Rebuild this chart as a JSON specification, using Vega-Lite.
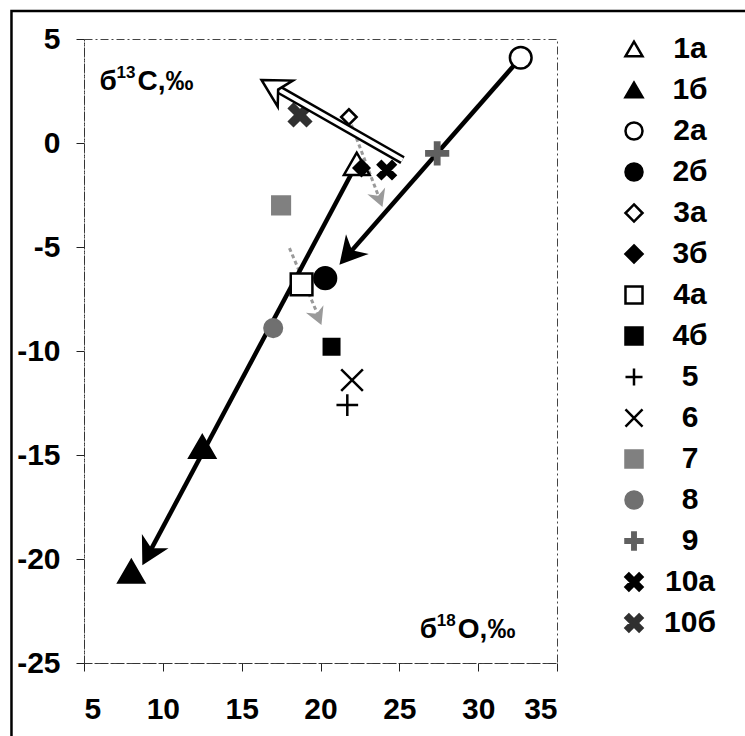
{
  "$schema": "https://vega.github.io/schema/vega-lite/v6.json",
  "width": 473,
  "height": 624,
  "autosize": {"type": "none"},
  "padding": {"left": 84, "top": 39, "right": 188, "bottom": 73},
  "background": "white",
  "config": {
    "view": {"stroke": "#444", "strokeWidth": 1, "strokeDash": [8, 3, 2, 3]},
    "axis": {
      "grid": false,
      "title": null,
      "domainColor": "#333",
      "domainDash": [8, 3, 2, 3],
      "tickColor": "#222",
      "tickSize": 8,
      "labelFont": "Liberation Sans",
      "labelFontSize": 30,
      "labelFontWeight": "bold",
      "labelColor": "black"
    }
  },
  "datasets": {
    "points": [
      {"g": "1a", "x": 22.3, "y": -1.0},
      {"g": "1б", "x": 12.5, "y": -14.6},
      {"g": "1б", "x": 8.0, "y": -20.6},
      {"g": "2a", "x": 32.7, "y": 4.1},
      {"g": "2б", "x": 20.3, "y": -6.5},
      {"g": "3a", "x": 21.8, "y": 1.25},
      {"g": "3б", "x": 22.6, "y": -1.2},
      {"g": "4a", "x": 18.8, "y": -6.8},
      {"g": "4б", "x": 20.7, "y": -9.8},
      {"g": "5", "x": 21.7, "y": -12.6},
      {"g": "6", "x": 22.0, "y": -11.4},
      {"g": "7", "x": 17.5, "y": -3.0},
      {"g": "8", "x": 17.0, "y": -8.9},
      {"g": "9", "x": 27.4, "y": -0.5},
      {"g": "10a", "x": 24.2, "y": -1.3},
      {"g": "10б", "x": 18.7, "y": 1.35}
    ],
    "lines": [
      {"arrow": "A1", "o": 1, "x": 32.7, "y": 4.1},
      {"arrow": "A1", "o": 2, "x": 21.6, "y": -5.5},
      {"arrow": "A2", "o": 1, "x": 22.3, "y": -1.0},
      {"arrow": "A2", "o": 2, "x": 9.0, "y": -19.9},
      {"arrow": "W", "o": 1, "x": 25.2, "y": -0.82},
      {"arrow": "W", "o": 2, "x": 17.4, "y": 2.55},
      {"arrow": "G1", "o": 1, "x": 21.96, "y": 0.87},
      {"arrow": "G1", "o": 2, "x": 23.7, "y": -2.6},
      {"arrow": "G2", "o": 1, "x": 18.03, "y": -5.05},
      {"arrow": "G2", "o": 2, "x": 19.8, "y": -8.2}
    ],
    "heads": [
      {"arrow": "A1", "x": 21.2, "y": -5.85},
      {"arrow": "A2", "x": 8.7, "y": -20.3},
      {"arrow": "W", "x": 16.26, "y": 3.03},
      {"arrow": "G1", "x": 23.93, "y": -3.08},
      {"arrow": "G2", "x": 20.06, "y": -8.75}
    ],
    "labels": [
      {"k": "c", "x": 5.98, "y": 2.93},
      {"k": "o", "x": 26.3, "y": -23.41}
    ],
    "frame": [
      {"x": 0.4, "x2": 47.8, "y": 6.35, "y2": -29.2}
    ]
  },
  "encoding": {
    "x": {"field": "x", "type": "quantitative", "scale": {"domain": [5, 35], "nice": false, "zero": false},
          "axis": {"values": [5, 10, 15, 20, 25, 30, 35], "labelPadding": 23}},
    "y": {"field": "y", "type": "quantitative", "scale": {"domain": [-25, 5], "nice": false, "zero": false},
          "axis": {"values": [5, 0, -5, -10, -15, -20, -25], "labelPadding": 16, "labelExpr": "replace(datum.label, '−', '-')"}}
  },
  "layer": [
    {
      "data": {"name": "frame"},
      "mark": {"type": "rect", "filled": false, "stroke": "black", "strokeWidth": 2.5},
      "encoding": {"x2": {"field": "x2"}, "y2": {"field": "y2"}}
    },
    {
      "data": {"name": "lines"},
      "transform": [{"filter": "datum.arrow === 'G1' || datum.arrow === 'G2'"}],
      "mark": {"type": "line", "stroke": "#9a9a9a", "strokeWidth": 3, "strokeDash": [4, 3]},
      "encoding": {"detail": {"field": "arrow"}, "order": {"field": "o"}}
    },
    {
      "data": {"name": "lines"},
      "transform": [{"filter": "datum.arrow === 'A1' || datum.arrow === 'A2'"}],
      "mark": {"type": "line", "stroke": "black", "strokeWidth": 4.5},
      "encoding": {"detail": {"field": "arrow"}, "order": {"field": "o"}}
    },
    {
      "data": {"name": "points"},
      "encoding": {
        "shape": {"field": "g", "type": "nominal",
          "scale": {"domain": ["1a","1б","2a","2б","3a","3б","4a","4б","5","6","7","8","9","10a","10б"],
            "range": ["triangle-up","triangle-up","circle","circle","M0,-1L1,0L0,1L-1,0Z","M0,-1L1,0L0,1L-1,0Z","square","square","M-1,0L1,0M0,-1L0,1","M-1,-1L1,1M-1,1L1,-1","square","circle","M-1,-0.2L-0.2,-0.2L-0.2,-1L0.2,-1L0.2,-0.2L1,-0.2L1,0.2L0.2,0.2L0.2,1L-0.2,1L-0.2,0.2L-1,0.2Z","M-1,-0.6L-0.6,-1L0,-0.4L0.6,-1L1,-0.6L0.4,0L1,0.6L0.6,1L0,0.4L-0.6,1L-1,0.6L-0.4,0Z","M-1,-0.6L-0.6,-1L0,-0.4L0.6,-1L1,-0.6L0.4,0L1,0.6L0.6,1L0,0.4L-0.6,1L-1,0.6L-0.4,0Z"]},
          "legend": {"orient": "none", "legendX": 535, "legendY": -5, "title": null, "padding": 0,
            "labelFont": "Liberation Sans", "labelFontSize": 30, "labelFontWeight": "bold", "labelColor": "black",
            "labelAlign": "center", "labelOffset": 41, "rowPadding": 11, "symbolSize": 290, "symbolStrokeWidth": 2.5, "symbolOpacity": 1}},
        "fill": {"field": "g", "type": "nominal",
          "scale": {"domain": ["1a","1б","2a","2б","3a","3б","4a","4б","5","6","7","8","9","10a","10б"],
            "range": ["white","black","white","black","white","black","white","black","black","black","#808080","#707070","#606060","black","#303030"]}},
        "stroke": {"field": "g", "type": "nominal",
          "scale": {"domain": ["1a","1б","2a","2б","3a","3б","4a","4б","5","6","7","8","9","10a","10б"],
            "range": ["black","black","black","black","black","black","black","black","black","black","#808080","#707070","#606060","black","#303030"]}}
      },
      "layer": [
        {
          "transform": [{"filter": "indexof(['1a','1б'], datum.g) >= 0"}],
          "mark": {"type": "point", "opacity": 1, "strokeWidth": 2.5, "size": 660}
        },
        {
          "transform": [{"filter": "indexof(['2a','2б','4a','5','6','9','10б'], datum.g) >= 0"}],
          "mark": {"type": "point", "opacity": 1, "strokeWidth": 2.5, "size": 470}
        },
        {
          "transform": [{"filter": "indexof(['7','8','10a'], datum.g) >= 0"}],
          "mark": {"type": "point", "opacity": 1, "strokeWidth": 2.5, "size": 310}
        },
        {
          "transform": [{"filter": "indexof(['3a','3б','4б'], datum.g) >= 0"}],
          "mark": {"type": "point", "opacity": 1, "strokeWidth": 2.5, "size": 240}
        }
      ]
    },
    {
      "data": {"name": "lines"},
      "transform": [{"filter": "datum.arrow === 'W'"}],
      "mark": {"type": "line", "stroke": "black", "strokeWidth": 9},
      "encoding": {"order": {"field": "o"}}
    },
    {
      "data": {"name": "lines"},
      "transform": [{"filter": "datum.arrow === 'W'"}],
      "mark": {"type": "line", "stroke": "white", "strokeWidth": 4},
      "encoding": {"order": {"field": "o"}}
    },
    {
      "data": {"name": "heads"},
      "transform": [{"filter": "datum.arrow === 'A1'"}],
      "mark": {"type": "point", "shape": "M0,0L0.55,1L0,0.7L-0.55,1Z", "size": 3000, "angle": 221, "filled": true, "fill": "black", "stroke": null, "opacity": 1}
    },
    {
      "data": {"name": "heads"},
      "transform": [{"filter": "datum.arrow === 'A2'"}],
      "mark": {"type": "point", "shape": "M0,0L0.55,1L0,0.7L-0.55,1Z", "size": 3000, "angle": 208, "filled": true, "fill": "black", "stroke": null, "opacity": 1}
    },
    {
      "data": {"name": "heads"},
      "transform": [{"filter": "datum.arrow === 'W'"}],
      "mark": {"type": "point", "shape": "M0,0L0.55,1L0,0.7L-0.55,1Z", "size": 3000, "angle": 300, "fill": "white", "stroke": "black", "strokeWidth": 2.5, "opacity": 1}
    },
    {
      "data": {"name": "heads"},
      "transform": [{"filter": "datum.arrow === 'G1'"}],
      "mark": {"type": "point", "shape": "M0,0L0.55,1L0,0.7L-0.55,1Z", "size": 1200, "angle": 159, "filled": true, "fill": "#9a9a9a", "stroke": null, "opacity": 1}
    },
    {
      "data": {"name": "heads"},
      "transform": [{"filter": "datum.arrow === 'G2'"}],
      "mark": {"type": "point", "shape": "M0,0L0.55,1L0,0.7L-0.55,1Z", "size": 1200, "angle": 157, "filled": true, "fill": "#9a9a9a", "stroke": null, "opacity": 1}
    },
    {
      "data": {"name": "labels"},
      "transform": [{"calculate": "'б'", "as": "t"}],
      "mark": {"type": "text", "align": "left", "baseline": "middle", "font": "Liberation Sans", "fontSize": 28, "fontWeight": "bold", "color": "black"},
      "encoding": {"text": {"field": "t"}}
    },
    {
      "data": {"name": "labels"},
      "transform": [{"calculate": "datum.k === 'c' ? '13' : '18'", "as": "t"}],
      "mark": {"type": "text", "align": "left", "baseline": "middle", "dx": 17, "dy": -9, "font": "Liberation Sans", "fontSize": 17, "fontWeight": "bold", "color": "black"},
      "encoding": {"text": {"field": "t"}}
    },
    {
      "data": {"name": "labels"},
      "transform": [{"calculate": "datum.k === 'c' ? 'С,‰' : 'О,‰'", "as": "t"}],
      "mark": {"type": "text", "align": "left", "baseline": "middle", "dx": 38, "font": "Liberation Sans", "fontSize": 28, "fontWeight": "bold", "color": "black"},
      "encoding": {"text": {"field": "t"}}
    }
  ]
}
